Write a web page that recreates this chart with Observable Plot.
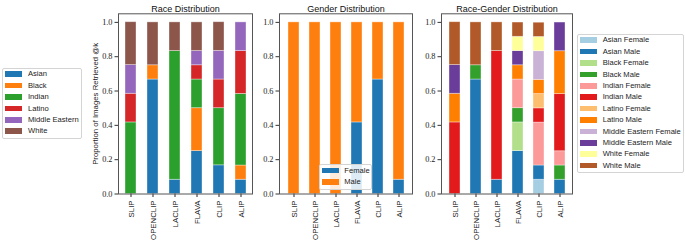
<!DOCTYPE html>
<html>
<head>
<meta charset="utf-8">
<script src="https://cdn.jsdelivr.net/npm/d3@7"></script>
<script src="https://cdn.jsdelivr.net/npm/@observablehq/plot@0.6"></script>
<style>
  body { margin: 0; background: white; }
  #wrap { position: relative; width: 685px; height: 240px; overflow: hidden; background: white; font-family: "Liberation Sans", sans-serif; }
  #wrap svg { position: absolute; left: 0; top: 0; }
  #wrap g[aria-label="y-axis tick label"] text, #wrap g[aria-label="y-axis tick label"] { font-family: "Liberation Serif", serif; font-size: 8.3px; }
  .legend { position: absolute; background: rgba(255,255,255,0.85); border: 1px solid #d4d4d4; border-radius: 2px; box-sizing: border-box; font-size: 7.6px; color: #222; }
  .legend .row { position: absolute; left: 0; height: 10px; white-space: nowrap; }
  .legend .sw { position: absolute; width: 17px; height: 5.5px; top: 2.2px; }
  .legend .lab { position: absolute; top: 0; line-height: 10px; }
</style>
</head>
<body>
<div id="wrap"></div>
<script>
// ---- data ----
const models = ["SLIP", "OPENCLIP", "LACLIP", "FLAVA", "CLIP", "ALIP"];

const races = ["Asian", "Black", "Indian", "Latino", "Middle Eastern", "White"];
const raceColors = ["#1f77b4", "#ff7f0e", "#2ca02c", "#d62728", "#9467bd", "#8c564b"];
// proportion per model (rows = models, cols = races)
const raceSLIP     = [0, 0, 0.417, 0.167, 0.167, 0.25];
const raceOPENCLIP = [0.667, 0.083, 0, 0, 0, 0.25];
const raceLACLIP   = [0.083, 0, 0.75, 0, 0, 0.167];
const raceFLAVA    = [0.25, 0.25, 0.167, 0.083, 0.083, 0.167];
const raceCLIP     = [0.167, 0, 0.333, 0.167, 0.167, 0.167];
const raceALIP     = [0.083, 0.083, 0.417, 0.25, 0.167, 0];

const genders = ["Female", "Male"];
const genderColors = ["#1f77b4", "#ff7f0e"];
const femaleShare = [0, 0, 0, 0.417, 0.667, 0.083];
const maleShare   = [1, 1, 1, 0.583, 0.333, 0.917];

const raceGender = ["Asian Female", "Asian Male", "Black Female", "Black Male", "Indian Female", "Indian Male",
  "Latino Female", "Latino Male", "Middle Eastern Female", "Middle Eastern Male", "White Female", "White Male"];
const raceGenderColors = ["#a6cee3", "#1f78b4", "#b2df8a", "#33a02c", "#fb9a99", "#e31a1c",
  "#fdbf6f", "#ff7f00", "#cab2d6", "#6a3d9a", "#ffff99", "#b15928"];
const rgSLIP     = [0, 0, 0, 0, 0, 0.417, 0, 0.167, 0, 0.167, 0, 0.25];
const rgOPENCLIP = [0, 0.667, 0, 0.083, 0, 0, 0, 0, 0, 0, 0, 0.25];
const rgLACLIP   = [0, 0.083, 0, 0, 0, 0.75, 0, 0, 0, 0, 0, 0.167];
const rgFLAVA    = [0, 0.25, 0.167, 0.083, 0.167, 0, 0, 0.083, 0, 0.083, 0.083, 0.083];
const rgCLIP     = [0.083, 0.083, 0, 0, 0.25, 0.083, 0.083, 0.083, 0.167, 0, 0.083, 0.083];
const rgALIP     = [0, 0.083, 0, 0.083, 0.083, 0.333, 0, 0.25, 0, 0.167, 0, 0];

const yTicks = [0, 0.2, 0.4, 0.6, 0.8, 1.0];

// ---- build tables ----
function table(keys, rows) {
  const out = [];
  keys.forEach((k, j) => {
    models.forEach((m, i) => out.push({model: m, key: k, value: rows[i][j]}));
  });
  return out;
}
const raceData = table(races, [raceSLIP, raceOPENCLIP, raceLACLIP, raceFLAVA, raceCLIP, raceALIP]);
const genderData = table(genders, models.map((m, i) => [femaleShare[i], maleShare[i]]));
const rgData = table(raceGender, [rgSLIP, rgOPENCLIP, rgLACLIP, rgFLAVA, rgCLIP, rgALIP]);

const W = 685, H = 240;
const sans = "Liberation Sans, sans-serif";
const serif = "Liberation Serif, serif";

function panel(data, keys, colors, title, left, right, ylabel) {
  const marks = [
    Plot.barY(data, Plot.stackY({x: "model", y: "value", fill: "key", order: null,
      stroke: "white", strokeOpacity: 0.45, strokeWidth: 0.8})),
    Plot.axisY({ticks: yTicks, tickFormat: d3.format(".1f"), tickSize: 3.5, tickPadding: 2.5,
      fontFamily: serif, fontSize: 8.3, label: null, stroke: "#333"}),
    Plot.axisX({tickRotate: -90, tickSize: 3.5, tickPadding: 3, fontFamily: sans, fontSize: 7.8, label: null}),
    Plot.frame({stroke: "#555", strokeWidth: 1}),
    Plot.text([title], {frameAnchor: "top", dy: -8, fontSize: 9, fontFamily: sans, fill: "#111"})
  ];
  if (ylabel) {
    marks.push(Plot.text([ylabel], {frameAnchor: "left", textAnchor: "middle", dx: -23, rotate: -90,
      fontSize: 7.8, fontFamily: sans, fill: "#222"}));
  }
  return Plot.plot({
    width: W, height: H,
    marginLeft: left, marginRight: W - right, marginTop: 13.3, marginBottom: H - 193.5,
    style: {background: "transparent", overflow: "visible", color: "#222"},
    x: {domain: models, paddingInner: 0.5, paddingOuter: 0.275},
    y: {domain: [0, 1.05]},
    color: {domain: keys, range: colors},
    marks
  });
}

const wrap = document.getElementById("wrap");
wrap.appendChild(panel(raceData, races, raceColors, "Race Distribution", 118, 252, "Proportion of Images Retrieved @k"));
wrap.appendChild(panel(genderData, genders, genderColors, "Gender Distribution", 279, 412, null));
wrap.appendChild(panel(rgData, raceGender, raceGenderColors, "Race-Gender Distribution", 441, 572, null));

function legend(keys, colors, box, swX, labX, firstY, step) {
  const div = document.createElement("div");
  div.className = "legend";
  Object.assign(div.style, {left: box[0] + "px", top: box[1] + "px", width: (box[2] - box[0]) + "px", height: (box[3] - box[1]) + "px"});
  keys.forEach((k, i) => {
    const row = document.createElement("div");
    row.className = "row";
    row.style.top = (firstY - box[1] - 1 - 5 + i * step) + "px";
    const sw = document.createElement("div");
    sw.className = "sw";
    sw.style.left = (swX - box[0] - 1) + "px";
    sw.style.background = colors[i];
    const lab = document.createElement("div");
    lab.className = "lab";
    lab.style.left = (labX - box[0] - 1) + "px";
    lab.textContent = k;
    row.appendChild(sw); row.appendChild(lab);
    div.appendChild(row);
  });
  wrap.appendChild(div);
}
legend(races, raceColors, [2, 68, 82, 138.5], 4.5, 28, 74.3, 11.4);
legend(genders, genderColors, [319.3, 164.3, 372, 190], 321.7, 344.3, 170.7, 11.6);
legend(raceGender, raceGenderColors, [576.7, 34, 684, 172.7], 580, 602.7, 40.3, 11.4);
</script>
</body>
</html>
